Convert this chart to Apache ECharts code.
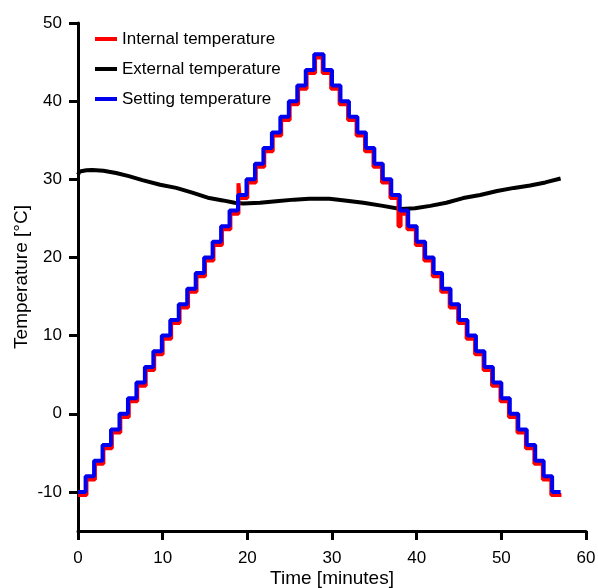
<!DOCTYPE html>
<html>
<head>
<meta charset="utf-8">
<script src="https://cdn.jsdelivr.net/npm/echarts@6/dist/echarts.min.js"></script>
<style>
html,body{margin:0;padding:0;background:#fff;}
#chart{width:598px;height:588px;}
</style>
</head>
<body>
<div id="chart"></div>
<script>
// Setting temperature (step function): time of each step [min] and level [°C]
var settingTimes = [0, 0.9, 1.9, 2.9, 3.9, 4.9, 5.9, 6.9, 7.9, 8.9, 9.9, 10.9, 11.9, 12.9, 13.9, 14.9, 15.9, 16.9, 17.9, 18.9, 19.9, 20.9, 21.9, 22.9, 23.9, 24.9, 25.9, 26.9, 27.9,
  29.0, 30.0, 31.0, 32.0, 33.0, 34.0, 35.0, 36.0, 37.0, 38.0, 39.0, 40.0, 41.0, 42.0, 43.0, 44.0, 45.0, 46.0, 47.0, 48.0, 49.0, 50.0, 51.0, 52.0, 53.0, 54.0, 55.0, 56.0, 57.0];
var settingLevels = [-10, -8, -6, -4, -2, 0, 2, 4, 6, 8, 10, 12, 14, 16, 18, 20, 22, 24, 26, 28, 30, 32, 34, 36, 38, 40, 42, 44, 46,
  44, 42, 40, 38, 36, 34, 32, 30, 28, 26, 24, 22, 20, 18, 16, 14, 12, 10, 8, 6, 4, 2, 0, -2, -4, -6, -8, -10, -10];

// Internal temperature (measured, step-like with small deviations and two spikes)
var internalTimes = [0, 1.0, 2.0, 3.0, 4.0, 5.0, 6.0, 7.0, 8.0, 9.0, 10.0, 11.0, 12.0, 13.0, 14.0, 15.0, 16.0, 17.0, 18.0, 18.95, 19.1, 20.0, 21.0, 22.0, 23.0, 24.0, 25.0, 26.0, 27.0, 28.0,
  28.9, 29.9, 30.9, 31.9, 32.9, 33.9, 34.9, 35.9, 36.9, 37.85, 38.1, 38.9, 39.9, 40.9, 41.9, 42.9, 43.9, 44.9, 45.9, 46.9, 47.9, 48.9, 49.9, 50.9, 51.9, 52.9, 53.9, 54.9, 55.9, 57.1];
var internalLevels = [-10.4, -8.4, -6.4, -4.4, -2.4, -0.4, 1.6, 3.6, 5.6, 7.6, 9.6, 11.6, 13.6, 15.6, 17.6, 19.6, 21.6, 23.6, 25.6, 29.5, 27.6, 29.6, 31.6, 33.6, 35.6, 37.6, 39.6, 41.6, 43.6, 45.6,
  43.6, 41.6, 39.6, 37.6, 35.6, 33.6, 31.6, 29.6, 27.6, 24.0, 25.6, 23.6, 21.6, 19.6, 17.6, 15.6, 13.6, 11.6, 9.6, 7.6, 5.6, 3.6, 1.6, -0.4, -2.4, -4.4, -6.4, -8.4, -10.4, -10.4];

// External temperature (measured)
var externalTimes = [0, 0.2, 1.0, 1.7, 3.0, 4.5, 6.0, 7.6, 9.7, 11.6, 13.5, 15.5, 17.1, 18.5, 19.5, 21.5, 23.4, 25.5, 27.3, 29.7, 31.5, 33.7, 36.0, 38.1, 39.8, 41.6, 43.5, 45.5, 47.5, 49.5, 51.5, 53.4, 55.2, 57.0];
var externalValues = [30.6, 31.0, 31.15, 31.2, 31.1, 30.8, 30.4, 29.9, 29.3, 28.9, 28.3, 27.6, 27.3, 27.0, 26.9, 27.0, 27.2, 27.4, 27.5, 27.5, 27.3, 27.0, 26.6, 26.2, 26.3, 26.6, 27.0, 27.6, 28.0, 28.5, 28.9, 29.2, 29.6, 30.1];

var xTicks = [0, 10, 20, 30, 40, 50, 60];
var yTicks = [-10, 0, 10, 20, 30, 40, 50];

function pairs(xs, ys) { return xs.map(function (x, i) { return [x, ys[i]]; }); }

var chart = echarts.init(document.getElementById('chart'), null, {renderer: 'canvas'});
var font = 'Liberation Sans, Arial, sans-serif';
chart.setOption({
  animation: false,
  backgroundColor: '#fff',
  textStyle: {fontFamily: font, color: '#000'},
  grid: {left: 78, right: 12, top: 23, bottom: 57, containLabel: false, outerBoundsMode: 'none'},
  legend: {
    orient: 'vertical', left: 90, top: 24, itemGap: 10,
    itemWidth: 22, itemHeight: 4, icon: 'rect',
    textStyle: {fontFamily: font, fontSize: 17, color: '#000', lineHeight: 20},
    data: ['Internal temperature', 'External temperature', 'Setting temperature']
  },
  xAxis: {
    type: 'value', min: 0, max: 60, interval: 10,
    name: 'Time [minutes]', nameLocation: 'middle', nameGap: 38, nameMoveOverlap: false,
    nameTextStyle: {fontFamily: font, fontSize: 19, color: '#000'},
    axisLine: {onZero: false, lineStyle: {color: '#000', width: 3}},
    axisTick: {show: true, length: 9, lineStyle: {color: '#000', width: 3}, customValues: xTicks},
    axisLabel: {fontFamily: font, fontSize: 17, color: '#000', margin: 19, customValues: xTicks},
    splitLine: {show: false}
  },
  yAxis: {
    type: 'value', min: -15, max: 50,
    name: 'Temperature [°C]', nameLocation: 'middle', nameGap: 47, nameMoveOverlap: false,
    nameTextStyle: {fontFamily: font, fontSize: 19, color: '#000'},
    axisLine: {onZero: false, lineStyle: {color: '#000', width: 3}},
    axisTick: {show: true, length: 9, lineStyle: {color: '#000', width: 3}, customValues: yTicks},
    axisLabel: {fontFamily: font, fontSize: 17, color: '#000', margin: 16, customValues: yTicks},
    splitLine: {show: false}
  },
  series: [
    {name: 'External temperature', type: 'line', data: pairs(externalTimes, externalValues),
      showSymbol: false, symbol: 'none', lineStyle: {color: '#000', width: 4}, itemStyle: {color: '#000'}, z: 2},
    {name: 'Internal temperature', type: 'line', step: 'end', data: pairs(internalTimes, internalLevels),
      showSymbol: false, symbol: 'none', lineStyle: {color: '#ff0000', width: 4}, itemStyle: {color: '#ff0000'}, z: 3},
    {name: 'Setting temperature', type: 'line', step: 'end', data: pairs(settingTimes, settingLevels),
      showSymbol: false, symbol: 'none', lineStyle: {color: '#0000ee', width: 4}, itemStyle: {color: '#0000ee'}, z: 4}
  ]
});
</script>
</body>
</html>
